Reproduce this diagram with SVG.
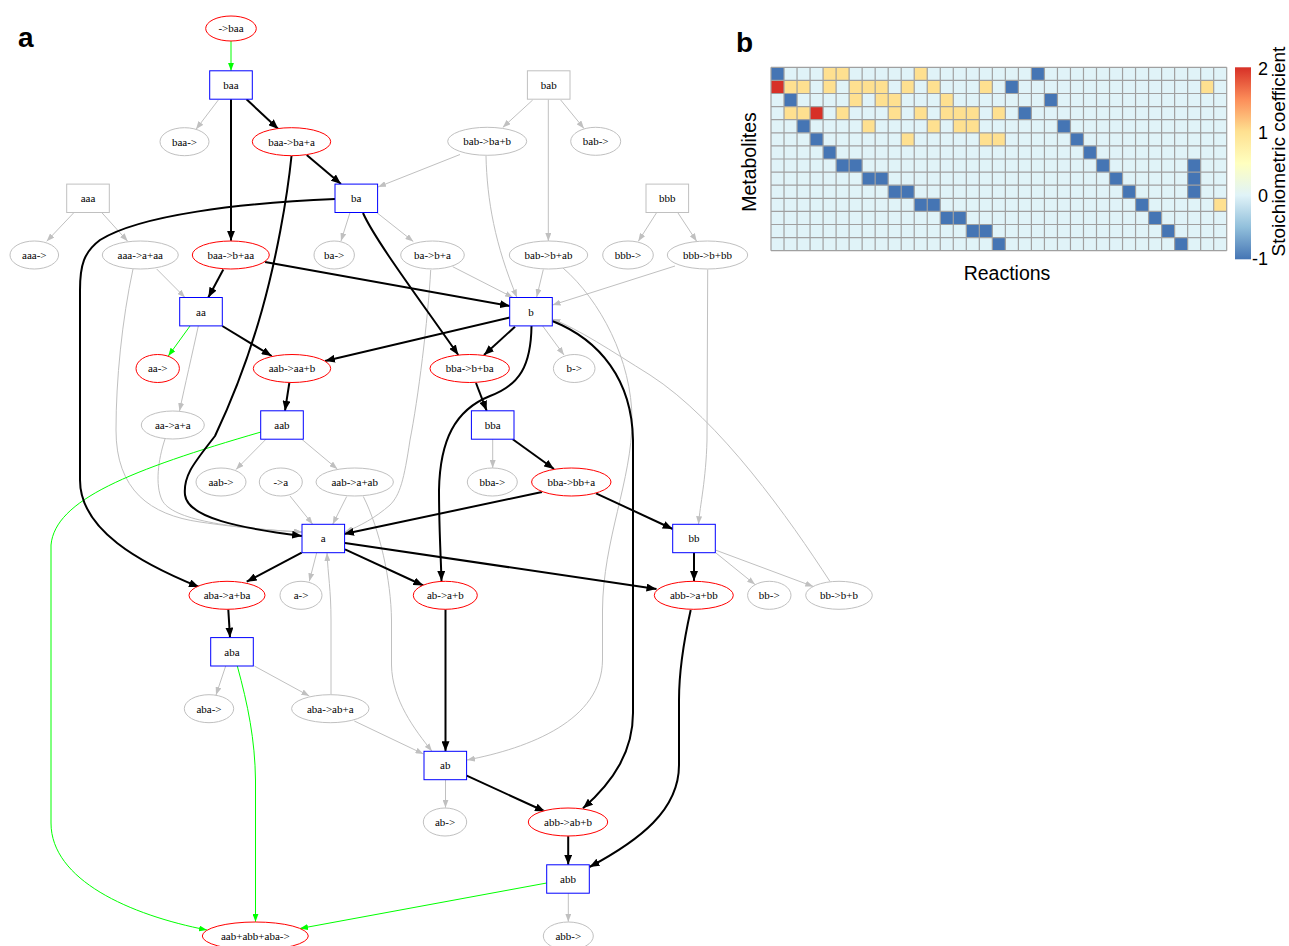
<svg xmlns="http://www.w3.org/2000/svg" width="1289" height="946" viewBox="0 0 1289 946">
<style>
.m rect{fill:#fff;stroke:#0000ff;stroke-width:1}
.mg rect{fill:#fff;stroke:#c0c0c0;stroke-width:1}
.r ellipse{fill:#fff;stroke:#ff0000;stroke-width:1}
.rg ellipse{fill:#fff;stroke:#c0c0c0;stroke-width:1}
.nodes text{font-family:"Liberation Serif",serif;font-size:11px;text-anchor:middle;fill:#000}
.eb{stroke:#000;stroke-width:2;fill:none;marker-end:url(#ab)}
.eg{stroke:#c0c0c0;stroke-width:1;fill:none;marker-end:url(#ag)}
.en{stroke:#00ff00;stroke-width:1;fill:none;marker-end:url(#an)}
.lab{font-family:"Liberation Sans",Arial,sans-serif;font-weight:bold;font-size:28px}
.ax{font-family:"Liberation Sans",Arial,sans-serif;font-size:19.5px;fill:#000}
.tk{font-family:"Liberation Sans",Arial,sans-serif;font-size:18px;fill:#000}
.B{fill:#4575b4}.R{fill:#d73027}.Y{fill:#fee090}
</style>
<defs>
<marker id="ab" viewBox="0 0 10 8" refX="10" refY="4" markerWidth="10" markerHeight="8" markerUnits="userSpaceOnUse" orient="auto"><path d="M0,0L10,4L0,8z" fill="#000"/></marker>
<marker id="ag" viewBox="0 0 8 6" refX="8" refY="3" markerWidth="8" markerHeight="6" markerUnits="userSpaceOnUse" orient="auto"><path d="M0,0L8,3L0,6z" fill="#c0c0c0"/></marker>
<marker id="an" viewBox="0 0 8 6" refX="8" refY="3" markerWidth="8" markerHeight="6" markerUnits="userSpaceOnUse" orient="auto"><path d="M0,0L8,3L0,6z" fill="#00ff00"/></marker>
<linearGradient id="cb" x1="0" y1="0" x2="0" y2="1">
<stop offset="0" stop-color="#d73027"/><stop offset="0.1667" stop-color="#fc8d59"/><stop offset="0.3333" stop-color="#fee090"/><stop offset="0.5" stop-color="#ffffbf"/><stop offset="0.6667" stop-color="#e0f3f8"/><stop offset="0.8333" stop-color="#91bfdb"/><stop offset="1" stop-color="#4575b4"/>
</linearGradient>
</defs>
<rect width="1289" height="946" fill="#fff"/>
<text class="lab" x="18" y="47">a</text>
<text class="lab" x="736" y="52">b</text>

<g id="connectors">
<path class="eg" d="M218.3,100L196,129.3"/>
<path class="eg" d="M532.7,100L502.7,127.5"/>
<path class="eg" d="M560.7,100L584,128.5"/>
<path class="eg" d="M548.3,99.5L548.3,241"/>
<path class="eg" d="M460,154.5L378,187"/>
<path class="eg" d="M486,156C487,200 495,245 517,297.5"/>
<path class="eg" d="M74,212.5L46.7,241.3"/>
<path class="eg" d="M101.7,212.5L127.7,241.3"/>
<path class="eg" d="M156.7,269L185,297.5"/>
<path class="eg" d="M133,269C122,320 116,380 116,430C116,490 150,515 200,522C240,528 280,531 302,532"/>
<path class="eg" d="M350,212.5L341,241"/>
<path class="eg" d="M376.7,212.5L413.3,241.5"/>
<path class="eg" d="M452.7,266.7L513,297.5"/>
<path class="eg" d="M430.7,270C428,320 418,400 410,440C404,480 400,495 390,505C375,518 360,526 345,532"/>
<path class="eg" d="M543.3,269.5L536.7,297"/>
<path class="eg" d="M563,268C600,300 632,360 632,420C632,480 603,540 602.5,610L602.5,660C602,720 530,748 467,760"/>
<path class="eg" d="M656.7,212.5L638.3,241.3"/>
<path class="eg" d="M677.7,212.5L696.7,241.3"/>
<path class="eg" d="M675,266L552.5,305"/>
<path class="eg" d="M707.7,269.5L707,440C706,480 700,505 698.5,524.3"/>
<path class="eg" d="M542.7,326L564,355"/>
<path class="eg" d="M198.3,326C192,355 185,385 179.5,411"/>
<path class="eg" d="M165,439C158,460 155,485 162,500C172,520 230,528 302,532"/>
<path class="eg" d="M266,439.2L236,469.5"/>
<path class="eg" d="M301.7,439.2L337.3,469"/>
<path class="eg" d="M290,496L312.7,524.3"/>
<path class="eg" d="M346.7,496.5L332.7,524.3"/>
<path class="eg" d="M363.3,496.5C380,530 391,580 391.5,620L391.5,665C392,700 415,730 432,751.3"/>
<path class="eg" d="M492.7,439.2L492.7,468"/>
<path class="eg" d="M316.7,552.7L309.3,581.3"/>
<path class="eg" d="M331,694.5L331,620C331,590 328,575 327,553"/>
<path class="eg" d="M225.7,666L216,695"/>
<path class="eg" d="M254.3,666L309.3,696"/>
<path class="eg" d="M354.3,721L423.5,754"/>
<path class="eg" d="M716,553L755,584.5"/>
<path class="eg" d="M715.3,550L813.3,586.5"/>
<path class="eg" d="M830,581.5C790,520 720,420 650,375C610,350 580,330 552.5,319"/>
<path class="eg" d="M445.5,779.7L445.5,807.7"/>
<path class="eg" d="M568.3,893.2L568.3,921.7"/>

<path class="en" d="M231,41L231,70.8"/>
<path class="en" d="M190,326L168.3,356"/>
<path class="en" d="M261,432C130,470 55,500 51,545L51,823C51,880 130,915 207,930"/>
<path class="en" d="M237.3,666C248,705 255,740 255.5,780L255.5,921.8"/>
<path class="en" d="M546.7,883L300,928.5"/>

<path class="eb" d="M246.5,99.3L278.3,129"/>
<path class="eb" d="M231,99.3L231,240.8"/>
<path class="eb" d="M306.7,155L341,184"/>
<path class="eb" d="M291.5,156C287,200 276,260 262,310C248,360 232,400 215,436C195,462 183,475 185,495C188,518 240,528 302,536"/>
<path class="eb" d="M335,199C240,203 140,215 100,240C84,252 80,265 80,290L80,480C80,530 140,563 199,587"/>
<path class="eb" d="M363,213C375,240 420,300 458.3,355"/>
<path class="eb" d="M223.3,269.5L208.3,297.5"/>
<path class="eb" d="M265,262L510,306"/>
<path class="eb" d="M222.3,326L271.7,356"/>
<path class="eb" d="M510,317.5L325,361"/>
<path class="eb" d="M515,326.7L484,355"/>
<path class="eb" d="M531.5,326C531,365 520,385 490,396C455,410 440,440 439,490C439,530 441,560 441.5,581"/>
<path class="eb" d="M552.3,321C600,340 632,380 633,440L633,713C633,750 615,780 583,808.3"/>
<path class="eb" d="M289.3,383L285,410.8"/>
<path class="eb" d="M476,383L486.7,410.8"/>
<path class="eb" d="M512.7,439.2L554,469"/>
<path class="eb" d="M542,492L344,534"/>
<path class="eb" d="M596,493.3L672.7,529"/>
<path class="eb" d="M301.7,552.7L246.7,581.7"/>
<path class="eb" d="M345,549.3L423.3,585.5"/>
<path class="eb" d="M345,543L656.5,589"/>
<path class="eb" d="M694,552.7L694,581"/>
<path class="eb" d="M228.3,609.5L230,637.6"/>
<path class="eb" d="M445.5,609.5L445.5,751.3"/>
<path class="eb" d="M690.7,610C684,640 679,670 679,700L679,765C679,810 640,840 589.5,867"/>
<path class="eb" d="M466.7,775.7L545,811.5"/>
<path class="eb" d="M568.2,836.2L568.2,864.8"/>
</g>

<g class="nodes">
<g id="m_baa" class="m"><rect x="209.7" y="70.8" width="42.6" height="28.4"/><text x="231" y="88.8">baa</text></g>
<g id="m_bab" class="mg"><rect x="527.4" y="70.8" width="42.6" height="28.4"/><text x="548.7" y="88.8">bab</text></g>
<g id="m_aaa" class="mg"><rect x="66.7" y="184.1" width="42.6" height="28.4"/><text x="88" y="202.1">aaa</text></g>
<g id="m_ba" class="m"><rect x="335" y="184.1" width="42.6" height="28.4"/><text x="356.3" y="202.1">ba</text></g>
<g id="m_bbb" class="mg"><rect x="646" y="184.1" width="42.6" height="28.4"/><text x="667.3" y="202.1">bbb</text></g>
<g id="m_aa" class="m"><rect x="179.7" y="297.5" width="42.6" height="28.4"/><text x="201" y="315.5">aa</text></g>
<g id="m_b" class="m"><rect x="509.7" y="297.5" width="42.6" height="28.4"/><text x="531" y="315.5">b</text></g>
<g id="m_aab" class="m"><rect x="260.7" y="410.8" width="42.6" height="28.4"/><text x="282" y="428.8">aab</text></g>
<g id="m_bba" class="m"><rect x="471.4" y="410.8" width="42.6" height="28.4"/><text x="492.7" y="428.8">bba</text></g>
<g id="m_a" class="m"><rect x="302" y="524.3" width="42.6" height="28.4"/><text x="323.3" y="542.3">a</text></g>
<g id="m_bb" class="m"><rect x="672.7" y="524.3" width="42.6" height="28.4"/><text x="694" y="542.3">bb</text></g>
<g id="m_aba" class="m"><rect x="210.7" y="637.6" width="42.6" height="28.4"/><text x="232" y="655.6">aba</text></g>
<g id="m_ab" class="m"><rect x="424" y="751.3" width="42.6" height="28.4"/><text x="445.3" y="769.3">ab</text></g>
<g id="m_abb" class="m"><rect x="546.7" y="864.8" width="42.6" height="28.4"/><text x="568" y="882.8">abb</text></g>

<g id="r_in_baa" class="r"><ellipse cx="231" cy="28.5" rx="25.3" ry="12.5"/><text x="231" y="32.3">-&gt;baa</text></g>
<g id="r_baa_out" class="rg"><ellipse cx="184.5" cy="141.7" rx="24.5" ry="14"/><text x="184.5" y="145.5">baa-&gt;</text></g>
<g id="r_baa_ba_a" class="r"><ellipse cx="291.5" cy="141.7" rx="39.2" ry="14"/><text x="291.5" y="145.5">baa-&gt;ba+a</text></g>
<g id="r_bab_ba_b" class="rg"><ellipse cx="487.2" cy="141.3" rx="39.5" ry="14"/><text x="487.2" y="145.1">bab-&gt;ba+b</text></g>
<g id="r_bab_out" class="rg"><ellipse cx="595.7" cy="141.3" rx="25" ry="14"/><text x="595.7" y="145.1">bab-&gt;</text></g>
<g id="r_aaa_out" class="rg"><ellipse cx="34.3" cy="255" rx="24.3" ry="14"/><text x="34.3" y="258.8">aaa-&gt;</text></g>
<g id="r_aaa_a_aa" class="rg"><ellipse cx="140.3" cy="255" rx="38" ry="14"/><text x="140.3" y="258.8">aaa-&gt;a+aa</text></g>
<g id="r_baa_b_aa" class="r"><ellipse cx="230.8" cy="255" rx="38.5" ry="14"/><text x="230.8" y="258.8">baa-&gt;b+aa</text></g>
<g id="r_ba_out" class="rg"><ellipse cx="334.2" cy="255" rx="20.2" ry="14"/><text x="334.2" y="258.8">ba-&gt;</text></g>
<g id="r_ba_b_a" class="rg"><ellipse cx="432.5" cy="255" rx="31.8" ry="14"/><text x="432.5" y="258.8">ba-&gt;b+a</text></g>
<g id="r_bab_b_ab" class="rg"><ellipse cx="548.5" cy="255" rx="39.2" ry="14"/><text x="548.5" y="258.8">bab-&gt;b+ab</text></g>
<g id="r_bbb_out" class="rg"><ellipse cx="628" cy="255" rx="25.3" ry="14"/><text x="628" y="258.8">bbb-&gt;</text></g>
<g id="r_bbb_b_bb" class="rg"><ellipse cx="707.5" cy="255" rx="40.2" ry="14"/><text x="707.5" y="258.8">bbb-&gt;b+bb</text></g>
<g id="r_aa_out" class="r"><ellipse cx="157.7" cy="368.5" rx="21.7" ry="14"/><text x="157.7" y="372.3">aa-&gt;</text></g>
<g id="r_aab_aa_b" class="r"><ellipse cx="292" cy="368.5" rx="38.7" ry="14"/><text x="292" y="372.3">aab-&gt;aa+b</text></g>
<g id="r_bba_b_ba" class="r"><ellipse cx="469.7" cy="368.5" rx="39.7" ry="14"/><text x="469.7" y="372.3">bba-&gt;b+ba</text></g>
<g id="r_b_out" class="rg"><ellipse cx="574.2" cy="368.5" rx="20.8" ry="14"/><text x="574.2" y="372.3">b-&gt;</text></g>
<g id="r_aa_a_a" class="rg"><ellipse cx="172.8" cy="425" rx="31.5" ry="14"/><text x="172.8" y="428.8">aa-&gt;a+a</text></g>
<g id="r_aab_out" class="rg"><ellipse cx="221" cy="482" rx="25" ry="14"/><text x="221" y="485.8">aab-&gt;</text></g>
<g id="r_in_a" class="rg"><ellipse cx="280.8" cy="482" rx="21.5" ry="14"/><text x="280.8" y="485.8">-&gt;a</text></g>
<g id="r_aab_a_ab" class="rg"><ellipse cx="354.7" cy="482" rx="38.7" ry="14"/><text x="354.7" y="485.8">aab-&gt;a+ab</text></g>
<g id="r_bba_out" class="rg"><ellipse cx="492.3" cy="482" rx="25" ry="14"/><text x="492.3" y="485.8">bba-&gt;</text></g>
<g id="r_bba_bb_a" class="r"><ellipse cx="571.3" cy="482" rx="39.7" ry="14"/><text x="571.3" y="485.8">bba-&gt;bb+a</text></g>
<g id="r_aba_a_ba" class="r"><ellipse cx="227" cy="595.3" rx="38" ry="14"/><text x="227" y="599.1">aba-&gt;a+ba</text></g>
<g id="r_a_out" class="rg"><ellipse cx="301" cy="595.3" rx="21" ry="14"/><text x="301" y="599.1">a-&gt;</text></g>
<g id="r_ab_a_b" class="r"><ellipse cx="445.3" cy="595.3" rx="32" ry="14"/><text x="445.3" y="599.1">ab-&gt;a+b</text></g>
<g id="r_abb_a_bb" class="r"><ellipse cx="693.8" cy="595.3" rx="39.5" ry="14"/><text x="693.8" y="599.1">abb-&gt;a+bb</text></g>
<g id="r_bb_out" class="rg"><ellipse cx="769.3" cy="595.3" rx="21.7" ry="14"/><text x="769.3" y="599.1">bb-&gt;</text></g>
<g id="r_bb_b_b" class="rg"><ellipse cx="839" cy="595.3" rx="33.3" ry="14"/><text x="839" y="599.1">bb-&gt;b+b</text></g>
<g id="r_aba_out" class="rg"><ellipse cx="209" cy="708.7" rx="24.7" ry="14"/><text x="209" y="712.5">aba-&gt;</text></g>
<g id="r_aba_ab_a" class="rg"><ellipse cx="330.3" cy="708.7" rx="38.7" ry="14"/><text x="330.3" y="712.5">aba-&gt;ab+a</text></g>
<g id="r_ab_out" class="rg"><ellipse cx="445" cy="822" rx="21.7" ry="14"/><text x="445" y="825.8">ab-&gt;</text></g>
<g id="r_abb_ab_b" class="r"><ellipse cx="568" cy="822" rx="39.7" ry="14"/><text x="568" y="825.8">abb-&gt;ab+b</text></g>
<g id="r_abb_out" class="rg"><ellipse cx="568.3" cy="936" rx="25" ry="14"/><text x="568.3" y="939.8">abb-&gt;</text></g>
<g id="r_aab_abb_aba_out" class="r"><ellipse cx="255.3" cy="936" rx="53" ry="14"/><text x="255.3" y="939.8">aab+abb+aba-&gt;</text></g>
</g>

<g id="heatmap" transform="translate(771,67.3) scale(13.02,13.1)">
<rect x="0" y="0" width="35" height="14" fill="#e0f3f8"/>
<g class="B">
<rect x="0" y="0" width="1" height="1"/><rect x="20" y="0" width="1" height="1"/>
<rect x="18" y="1" width="1" height="1"/>
<rect x="1" y="2" width="1" height="1"/><rect x="21" y="2" width="1" height="1"/>
<rect x="19" y="3" width="1" height="1"/>
<rect x="2" y="4" width="1" height="1"/><rect x="22" y="4" width="1" height="1"/>
<rect x="3" y="5" width="1" height="1"/><rect x="23" y="5" width="1" height="1"/>
<rect x="4" y="6" width="1" height="1"/><rect x="24" y="6" width="1" height="1"/>
<rect x="5" y="7" width="2" height="1"/><rect x="25" y="7" width="1" height="1"/><rect x="32" y="7" width="1" height="3"/>
<rect x="7" y="8" width="2" height="1"/><rect x="26" y="8" width="1" height="1"/>
<rect x="9" y="9" width="2" height="1"/><rect x="27" y="9" width="1" height="1"/>
<rect x="11" y="10" width="2" height="1"/><rect x="28" y="10" width="1" height="1"/>
<rect x="13" y="11" width="2" height="1"/><rect x="29" y="11" width="1" height="1"/>
<rect x="15" y="12" width="2" height="1"/><rect x="30" y="12" width="1" height="1"/>
<rect x="17" y="13" width="1" height="1"/><rect x="31" y="13" width="1" height="1"/>
</g>
<g class="R"><rect x="0" y="1" width="1" height="1"/><rect x="3" y="3" width="1" height="1"/></g>
<g class="Y">
<rect x="4" y="0" width="2" height="1"/><rect x="11" y="0" width="1" height="1"/>
<rect x="1" y="1" width="2" height="1"/><rect x="4" y="1" width="1" height="1"/><rect x="6" y="1" width="3" height="1"/><rect x="10" y="1" width="1" height="1"/><rect x="12" y="1" width="1" height="1"/><rect x="16" y="1" width="1" height="1"/><rect x="33" y="1" width="1" height="1"/>
<rect x="6" y="2" width="1" height="1"/><rect x="8" y="2" width="2" height="1"/><rect x="13" y="2" width="1" height="1"/>
<rect x="1" y="3" width="2" height="1"/><rect x="5" y="3" width="1" height="1"/><rect x="9" y="3" width="1" height="1"/><rect x="11" y="3" width="1" height="1"/><rect x="13" y="3" width="3" height="1"/><rect x="17" y="3" width="1" height="1"/>
<rect x="7" y="4" width="1" height="1"/><rect x="12" y="4" width="1" height="1"/><rect x="14" y="4" width="2" height="1"/>
<rect x="10" y="5" width="1" height="1"/><rect x="16" y="5" width="2" height="1"/>
<rect x="34" y="10" width="1" height="1"/>
</g>
<path fill="none" stroke="#a0a0a0" stroke-width="1.2" vector-effect="non-scaling-stroke" d="M0,0V14M1,0V14M2,0V14M3,0V14M4,0V14M5,0V14M6,0V14M7,0V14M8,0V14M9,0V14M10,0V14M11,0V14M12,0V14M13,0V14M14,0V14M15,0V14M16,0V14M17,0V14M18,0V14M19,0V14M20,0V14M21,0V14M22,0V14M23,0V14M24,0V14M25,0V14M26,0V14M27,0V14M28,0V14M29,0V14M30,0V14M31,0V14M32,0V14M33,0V14M34,0V14M35,0V14M0,0H35M0,1H35M0,2H35M0,3H35M0,4H35M0,5H35M0,6H35M0,7H35M0,8H35M0,9H35M0,10H35M0,11H35M0,12H35M0,13H35M0,14H35"/>
</g>
<g id="colorbar">
<rect x="1235" y="67.3" width="16" height="192" fill="url(#cb)"/>
<text class="tk" x="1258" y="75">2</text>
<text class="tk" x="1258" y="138.5">1</text>
<text class="tk" x="1258" y="201.5">0</text>
<text class="tk" x="1252" y="265">-1</text>
</g>
<text class="ax" transform="translate(756,162) rotate(-90)" text-anchor="middle">Metabolites</text>
<text class="ax" x="1007" y="280" text-anchor="middle">Reactions</text>
<text class="ax" transform="translate(1284.5,151.5) rotate(-90)" text-anchor="middle" style="font-size:19px">Stoichiometric coefficient</text>
</svg>
